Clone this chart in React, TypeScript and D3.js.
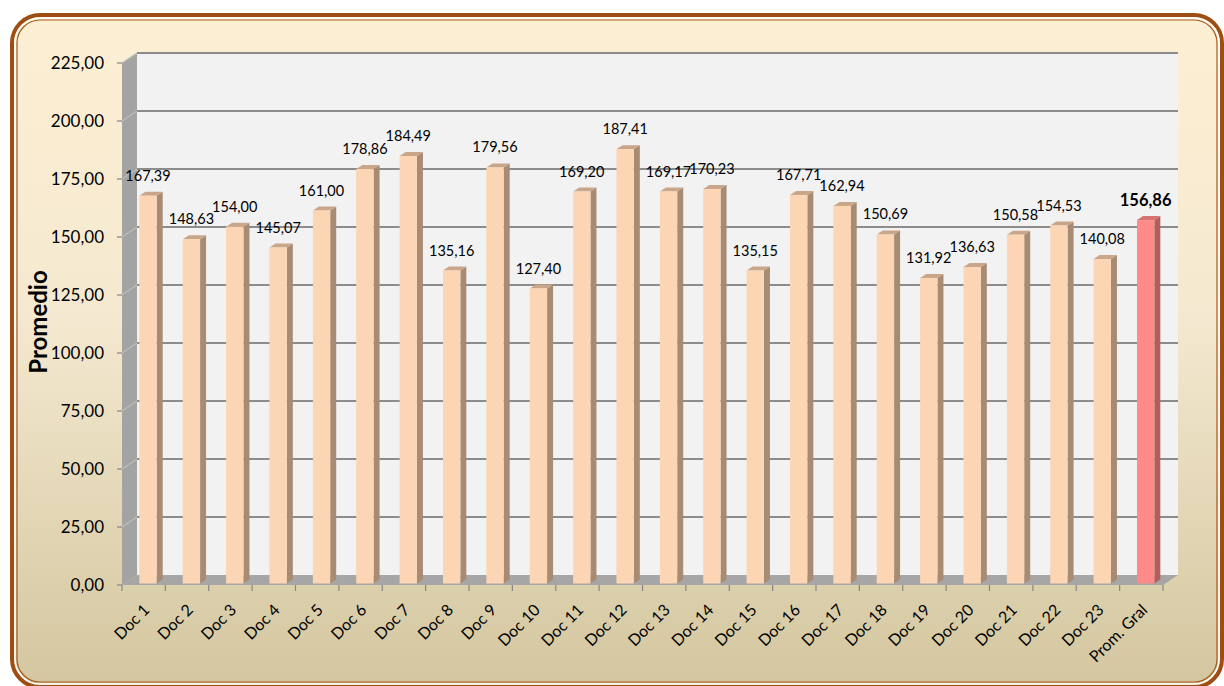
import React from "react";
import * as d3 from "d3";

const categories = [
  "Doc 1", "Doc 2", "Doc 3", "Doc 4", "Doc 5", "Doc 6", "Doc 7", "Doc 8",
  "Doc 9", "Doc 10", "Doc 11", "Doc 12", "Doc 13", "Doc 14", "Doc 15", "Doc 16",
  "Doc 17", "Doc 18", "Doc 19", "Doc 20", "Doc 21", "Doc 22", "Doc 23", "Prom. Gral",
];
const values = [
  167.39, 148.63, 154.0, 145.07, 161.0, 178.86, 184.49, 135.16,
  179.56, 127.4, 169.2, 187.41, 169.17, 170.23, 135.15, 167.71,
  162.94, 150.69, 131.92, 136.63, 150.58, 154.53, 140.08, 156.86,
];
const yTicks = [0, 25, 50, 75, 100, 125, 150, 175, 200, 225];
const yTitle = "Promedio";

const W = 1224;
const H = 686;
const FONT = "Lato, 'Open Sans', sans-serif";

const fmt = (v: number) => v.toFixed(2).replace(".", ",");

export default function App() {
  const x0 = 122;
  const x1 = 1163;
  const y = d3.scaleLinear().domain([0, 225]).range([585, 63]);
  const x = d3.scaleBand<string>().domain(categories).range([x0, x1]).paddingInner(0).paddingOuter(0);
  const bw = x.bandwidth();
  const DX = 15; // wall depth offset
  const DY = -10;
  const bdx = 6; // bar depth
  const bdy = -4;
  const barW = bw * 0.4;
  const lastIdx = categories.length - 1;

  const poly = (pts: [number, number][]) => pts.map((p) => p.join(",")).join(" ");

  return (
    <svg width={W} height={H} style={{ display: "block", position: "absolute", left: 0, top: 0 }}>
      <defs>
        <linearGradient id="bg" x1="0" y1="0" x2="0" y2="1">
          <stop offset="0%" stopColor="#fdefd3" />
          <stop offset="45%" stopColor="#f4e9d0" />
          <stop offset="100%" stopColor="#d3c69f" />
        </linearGradient>
      </defs>
      <rect x={0} y={0} width={W} height={H} fill="#ffffff" />
      {/* frame */}
      <rect x={12} y={15} width={1210} height={672} rx={28} ry={28} fill="url(#bg)" stroke="#9e4e12" strokeWidth={4} />
      <rect x={15} y={18} width={1204} height={666} rx={25} ry={25} fill="none" stroke="#ffffff" strokeWidth={1.5} />
      <rect x={17} y={20} width={1200} height={662} rx={23} ry={23} fill="none" stroke="#a85a1e" strokeWidth={1.2} />

      {/* back wall */}
      <rect x={x0 + DX} y={y(225) + DY} width={x1 - x0} height={y(0) - y(225)} fill="#f2f2f2" />
      {/* side wall */}
      <polygon
        points={poly([
          [x0, y(225)],
          [x0 + DX, y(225) + DY],
          [x0 + DX, y(0) + DY],
          [x0, y(0)],
        ])}
        fill="#a3a3a3"
      />
      {/* floor */}
      <polygon
        points={poly([
          [x0, y(0)],
          [x0 + DX, y(0) + DY],
          [x1 + DX, y(0) + DY],
          [x1, y(0)],
        ])}
        fill="#a6a6a6"
      />
      {/* gridlines */}
      {yTicks.filter((t) => t > 0).map((t) => (
        <g key={"g" + t}>
          <line x1={x0 + DX} x2={x1 + DX} y1={y(t) + DY} y2={y(t) + DY} stroke="#8c8c8c" strokeWidth={2} />
          <line x1={x0} x2={x0 + DX} y1={y(t)} y2={y(t) + DY} stroke="#bdbdbd" strokeWidth={1.2} />
        </g>
      ))}
      {/* y ticks */}
      {yTicks.map((t) => (
        <g key={"t" + t}>
          <line x1={x0 - 5} x2={x0} y1={y(t)} y2={y(t)} stroke="#868686" strokeWidth={1.2} />
          <text x={104} y={y(t)} dy="0.35em" textAnchor="end" fontFamily={FONT} fontSize={17} fill="#000">
            {fmt(t)}
          </text>
        </g>
      ))}
      {/* x ticks */}
      {categories.map((c) => (
        <line key={"xt" + c} x1={x(c)!} x2={x(c)!} y1={y(0)} y2={y(0) + 6} stroke="#868686" strokeWidth={1.2} />
      ))}
      <line x1={x1} x2={x1} y1={y(0)} y2={y(0) + 6} stroke="#868686" strokeWidth={1.2} />

      {/* bars */}
      {categories.map((c, i) => {
        const v = values[i];
        const bx = x(c)! + bw * 0.4;
        const top = y(v) - 1;
        const bot = y(0) - 1.5;
        const isAvg = i === lastIdx;
        const front = isAvg ? "#ff8a8a" : "#fcd5b4";
        const side = isAvg ? "#b05f5f" : "#a88b73";
        const topC = isAvg ? "#d77272" : "#c9a68a";
        return (
          <g key={"b" + c}>
            <polygon
              points={poly([
                [bx + barW, top],
                [bx + barW + bdx, top + bdy],
                [bx + barW + bdx, bot + bdy],
                [bx + barW, bot],
              ])}
              fill={side}
            />
            <polygon
              points={poly([
                [bx, top],
                [bx + bdx, top + bdy],
                [bx + barW + bdx, top + bdy],
                [bx + barW, top],
              ])}
              fill={topC}
            />
            <rect x={bx} y={top} width={barW} height={bot - top} fill={front} />
            <text
              x={bx + barW / 2}
              y={top - 20}
              dy="0.35em"
              textAnchor="middle"
              fontFamily={FONT}
              fontSize={isAvg ? 16.5 : 14.5}
              fontWeight={isAvg ? "bold" : "normal"}
              fill="#000"
            >
              {fmt(v)}
            </text>
          </g>
        );
      })}

      {/* x labels */}
      {categories.map((c) => {
        const cx = x(c)! + bw / 2 + 7;
        return (
          <text
            key={"xl" + c}
            transform={`translate(${cx},${611}) rotate(-45)`}
            textAnchor="end"
            fontFamily={FONT}
            fontSize={16}
            fill="#000"
          >
            {c}
          </text>
        );
      })}

      {/* y title */}
      <text
        transform={`translate(${47},${322}) rotate(-90)`}
        textAnchor="middle"
        fontFamily={FONT}
        fontSize={24}
        fontWeight="bold"
        fill="#000"
      >
        {yTitle}
      </text>
    </svg>
  );
}
